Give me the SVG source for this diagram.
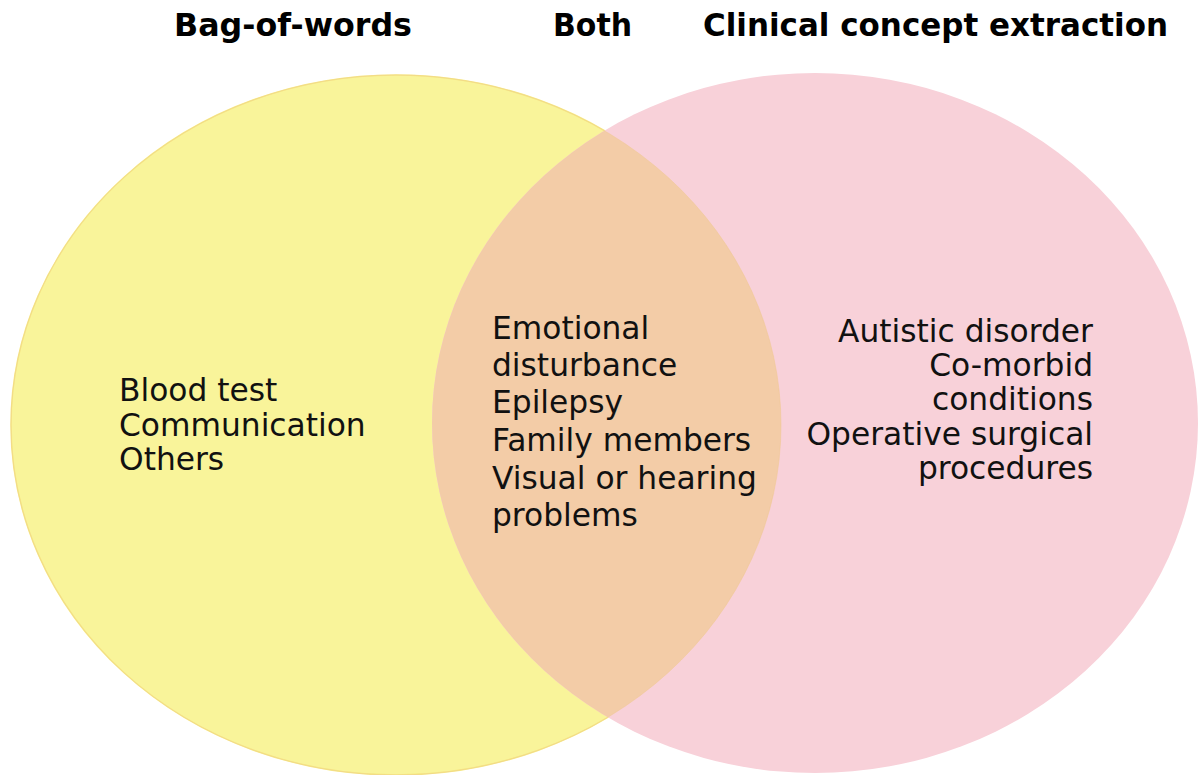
<svg xmlns="http://www.w3.org/2000/svg" width="1200" height="775" viewBox="0 0 1200 775">
  <style>
    .title { font-family: "DejaVu Sans", Verdana, sans-serif; font-weight: bold; font-size: 31.5px; fill: #000; }
    .item { font-family: "DejaVu Sans", Verdana, sans-serif; font-size: 31.3px; fill: #111; }
  </style>
  <defs>
    <clipPath id="clipYellow">
      <ellipse cx="396" cy="425" rx="385" ry="350"/>
    </clipPath>
  </defs>
  <rect width="1200" height="775" fill="#ffffff"/>

  <!-- set A: bag-of-words -->
  <g id="set-bow">
    <ellipse cx="396" cy="425" rx="385" ry="350" fill="#F9F49A" stroke="#F6EC82" stroke-width="1.5"/>
  </g>

  <!-- set B: clinical concept extraction -->
  <g id="set-cce">
    <ellipse cx="815" cy="423" rx="383" ry="350" fill="#F8D1D9"/>
  </g>

  <!-- intersection of both sets -->
  <g id="set-both">
    <ellipse cx="815" cy="423" rx="383" ry="350" fill="#F3CCA7" clip-path="url(#clipYellow)"/>
    <ellipse cx="396" cy="425" rx="385" ry="350" fill="none" stroke="#F0C890" stroke-width="1" opacity="0.5"/>
  </g>

  <!-- headings -->
  <g id="headings">
    <text class="title" x="174" y="36" textLength="238" lengthAdjust="spacingAndGlyphs">Bag-of-words</text>
    <text class="title" x="553" y="36" textLength="79" lengthAdjust="spacingAndGlyphs">Both</text>
    <text class="title" x="703" y="36" textLength="465" lengthAdjust="spacingAndGlyphs">Clinical concept extraction</text>
  </g>

  <g id="items-bow">
    <text class="item" x="119" y="401">Blood test</text>
    <text class="item" x="119" y="436">Communication</text>
    <text class="item" x="119" y="470">Others</text>
  </g>

  <g id="items-both">
    <text class="item" x="492" y="339">Emotional</text>
    <text class="item" x="492" y="376">disturbance</text>
    <text class="item" x="492" y="413">Epilepsy</text>
    <text class="item" x="492" y="451">Family members</text>
    <text class="item" x="492" y="489">Visual or hearing</text>
    <text class="item" x="492" y="526">problems</text>
  </g>

  <g id="items-cce">
    <text class="item" x="1093" y="342" text-anchor="end">Autistic disorder</text>
    <text class="item" x="1093" y="376" text-anchor="end">Co-morbid</text>
    <text class="item" x="1093" y="410" text-anchor="end">conditions</text>
    <text class="item" x="1093" y="445" text-anchor="end">Operative surgical</text>
    <text class="item" x="1093" y="479" text-anchor="end">procedures</text>
  </g>

  <g id="connectors"/>
</svg>
